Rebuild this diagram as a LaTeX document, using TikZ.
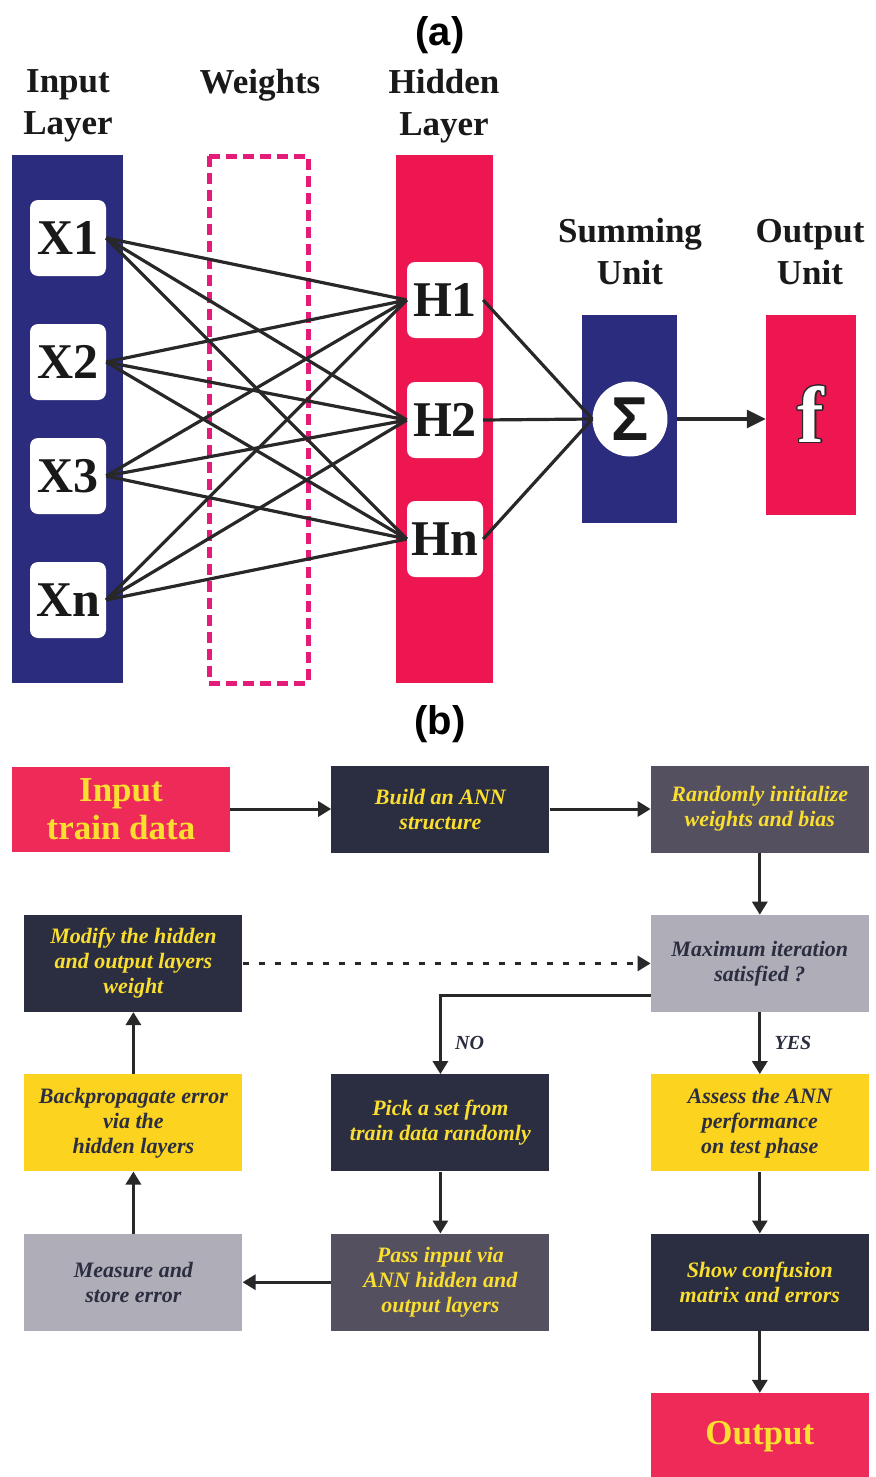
\documentclass[tikz,border=0pt]{standalone}
\usepackage{fontspec}
\setmainfont{Liberation Serif}
\setsansfont{Liberation Sans}
\usepackage{contour}
\usetikzlibrary{arrows.meta,positioning}

\definecolor{layernavy}{RGB}{43,44,125}
\definecolor{layerred}{RGB}{238,22,80}
\definecolor{weightpink}{RGB}{228,27,121}
\definecolor{boxred}{RGB}{238,43,88}
\definecolor{boxnavy}{RGB}{43,45,64}
\definecolor{boxslate}{RGB}{84,80,95}
\definecolor{boxgrey}{RGB}{175,174,184}
\definecolor{boxyellow}{RGB}{252,211,31}
\definecolor{txtyellow}{RGB}{250,222,48}
\definecolor{ink}{RGB}{40,40,40}

\contourlength{1.4pt}

\begin{document}
\begin{tikzpicture}[
  x=1pt, y=-1pt,
  panel/.style={font=\sffamily\bfseries\fontsize{40}{40}\selectfont},
  title/.style={align=center,font=\bfseries\fontsize{35}{42}\selectfont,text=black!90},
  unit/.style={fill=white,rounded corners=8pt,minimum width=76pt,minimum height=76pt,inner sep=0pt,font=\bfseries\fontsize{50}{50}\selectfont,text=black!90},
  wire/.style={line width=3.2pt,draw=ink},
  flowbox/.style={minimum width=218pt,minimum height=97pt,inner sep=2pt,align=center,font=\bfseries\itshape\fontsize{22}{25}\selectfont},
  darkbox/.style={flowbox,fill=boxnavy,text=txtyellow},
  slatebox/.style={flowbox,fill=boxslate,text=txtyellow},
  greybox/.style={flowbox,fill=boxgrey,text=boxnavy},
  yellowbox/.style={flowbox,fill=boxyellow,text=boxnavy},
  redbox/.style={flowbox,fill=boxred,text=txtyellow,font=\bfseries\fontsize{35}{38}\selectfont},
  flow/.style={-{Triangle[length=13pt,width=15pt]},line width=3pt,draw=ink},
  answer/.style={font=\bfseries\itshape\fontsize{20}{20}\selectfont,text=boxnavy}
]
\useasboundingbox (0,0) rectangle (875,1477);
\fill[white] (0,0) rectangle (875,1477);

% (a) network
\node[panel] (tagA) at (440,35) {(a)};
\node[title] (intitle) at (68,106) {Input\\Layer};
\node[title] (wtitle) at (260,85) {Weights};
\node[title] (htitle) at (444,106) {Hidden\\Layer};
\node[title] (stitle) at (630,252) {Summing\\Unit};
\node[title] (otitle) at (810,252) {Output\\Unit};

\fill[layernavy] (12,155) rectangle (123,683);
\fill[layerred] (396,155) rectangle (493,683);
\draw[weightpink,line width=5pt,dash pattern=on 11pt off 6pt] (209,156) rectangle (308,683);

\node[unit] (x1) at (68,238) {X1};
\node[unit] (x2) at (68,362) {X2};
\node[unit] (x3) at (68,476) {X3};
\node[unit] (xn) at (68,600) {Xn};
\node[unit] (h1) at (445,300) {H1};
\node[unit] (h2) at (445,420) {H2};
\node[unit] (hn) at (445,539) {Hn};

\foreach \xin in {x1,x2,x3,xn}
  \foreach \hid in {h1,h2,hn}
    \draw[wire] (\xin.east) -- (\hid.west);

\node[fill=layernavy,minimum width=95pt,minimum height=208pt,inner sep=0pt] (sumunit) at (629.5,419) {};
\node[circle,fill=white,minimum size=75pt,inner sep=0pt,font=\sffamily\bfseries\fontsize{62}{62}\selectfont,text=black!90] (sigma) at (630,419) {Σ};
\node[fill=layerred,minimum width=90pt,minimum height=200pt,inner sep=0pt,text=white,font=\bfseries\fontsize{80}{80}\selectfont] (outunit) at (811,415) {\contour{ink}{f}};

\foreach \hid in {h1,h2,hn}
  \draw[wire] (\hid.east) -- (sigma.west);
\draw[wire,-{Triangle[length=19pt,width=18pt]}] (sumunit.east) -- (outunit.west |- sumunit.east);

% (b) training flowchart
\node[panel] (tagB) at (440,724) {(b)};
\node[redbox,minimum height=85pt] (indata) at (121,809) {Input\\train data};
\node[darkbox,minimum height=87pt,right=101pt of indata] (build) {Build an ANN\\structure};
\node[slatebox,minimum height=87pt,right=101pt of build] (randinit) {Randomly initialize\\weights and bias};
\node[greybox,below=62pt of randinit] (maxiter) {Maximum iteration\\satisfied ?};
\node[darkbox,left=408pt of maxiter] (modify) {Modify the hidden\\and output layers\\weight};
\node[yellowbox,below=62pt of modify] (backprop) {Backpropagate error\\via the\\hidden layers};
\node[greybox,below=62pt of backprop] (measure) {Measure and\\store error};
\node[yellowbox,below=62pt of maxiter] (assess) {Assess the ANN\\performance\\on test phase};
\node[darkbox] (pick) at (build |- assess) {Pick a set from\\train data randomly};
\node[darkbox,below=62pt of assess] (confusion) {Show confusion\\matrix and errors};
\node[slatebox] (pass) at (pick |- confusion) {Pass input via\\ANN hidden and\\output layers};
\node[redbox,minimum height=87pt,below=62pt of confusion] (output) {Output};

\draw[flow] (indata) -- (build);
\draw[flow] (build) -- (randinit);
\draw[flow] (randinit) -- (maxiter);
\draw[flow,dash pattern=on 6pt off 10pt] (modify) -- (maxiter);
\draw[flow] ([yshift=17pt]maxiter.south west) -| node[answer,pos=0.8,right=10pt]{NO} (pick);
\draw[flow] (maxiter) -- node[answer,right=10pt]{YES} (assess);
\draw[flow] (pick) -- (pass);
\draw[flow] (assess) -- (confusion);
\draw[flow] (confusion) -- (output);
\draw[flow] (pass) -- (measure);
\draw[flow] (measure) -- (backprop);
\draw[flow] (backprop) -- (modify);
\end{tikzpicture}
\end{document}
